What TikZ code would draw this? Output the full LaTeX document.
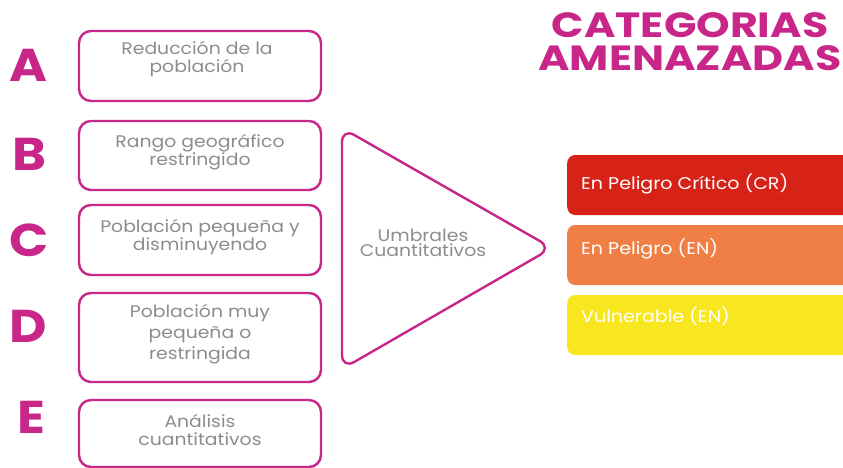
\documentclass[tikz,border=0pt]{standalone}
\usepackage{fontspec}
\setmainfont{Poppins}[FakeStretch=1.12]
\newfontfamily\titlefont{Poppins}[FakeStretch=1.22]
\definecolor{mag}{RGB}{200,38,136}
\definecolor{txtgray}{RGB}{140,140,140}
\definecolor{barred}{RGB}{215,34,24}
\definecolor{barorange}{RGB}{239,127,69}
\definecolor{baryellow}{RGB}{248,231,30}
\begin{document}
\begin{tikzpicture}[x=1pt,y=-1pt,
  catbox/.style={draw=mag, line width=2.4pt, rounded corners=12pt, minimum width=242pt, inner sep=0pt},
  boxtext/.style={text=txtgray, align=center, font=\fontsize{16.8}{17.5}\selectfont},
  letter/.style={text=mag, font=\fontsize{46}{46}\selectfont\bfseries},
  bar/.style={rounded corners=8pt, minimum width=320pt, minimum height=60pt, anchor=west, inner sep=0pt},
  bartext/.style={text=white, font=\fontsize{17}{17}\selectfont, anchor=west, inner sep=0pt}]
\useasboundingbox (0,0) rectangle (843,468);
\clip (0,0) rectangle (843,468);
% title
\node[text=mag, align=center, font=\titlefont\fontsize{35}{33}\selectfont\bfseries] (title) at (690,42) {CATEGORIAS\\AMENAZADAS};
% letters
\node[letter] (LA) at (28,65) {A};
\node[letter] (LB) at (29,154) {B};
\node[letter] (LC) at (29,240) {C};
\node[letter] (LD) at (28,326) {D};
\node[letter] (LE) at (31,417) {E};
% boxes
\node[catbox, minimum height=70pt] (bA) at (200,66) {};
\node[catbox, minimum height=69pt] (bB) at (200,155.5) {};
\node[catbox, minimum height=70pt] (bC) at (200,240) {};
\node[catbox, minimum height=89pt] (bD) at (200,337.5) {};
\node[catbox, minimum height=67pt] (bE) at (200,433.5) {};
\node[boxtext] (tA) at (197,59) {Reducción de la\\población};
\node[boxtext] (tB) at (200,152) {Rango geográfico\\restringido};
\node[boxtext, font=\fontsize{16.8}{16.5}\selectfont] (tC) at (200,237) {Población pequeña y\\disminuyendo};
\node[boxtext, font=\fontsize{16.8}{21}\selectfont] (tD) at (200,334) {Población muy\\pequeña o\\restringida};
\node[boxtext] (tE) at (200,430) {Análisis\\cuantitativos};
% triangle
\draw[mag, line width=2.4pt, rounded corners=14pt] (342,128) -- (552,248) -- (342,369) -- cycle;
\node[boxtext, font=\fontsize{16.8}{15.5}\selectfont] (tri) at (423,243) {Umbrales\\Cuantitativos};
% bars
\node[bar, fill=barred] (cr) at (567,185) {};
\node[bar, fill=barorange] (en) at (567,255) {};
\node[bar, fill=baryellow] (vu) at (567,325) {};
\node[bartext] (tcr) at (581,184) {En Peligro Crítico (CR)};
\node[bartext] (ten) at (581,249) {En Peligro (EN)};
\node[bartext] (tvu) at (581,316) {Vulnerable (EN)};
\end{tikzpicture}
\end{document}
